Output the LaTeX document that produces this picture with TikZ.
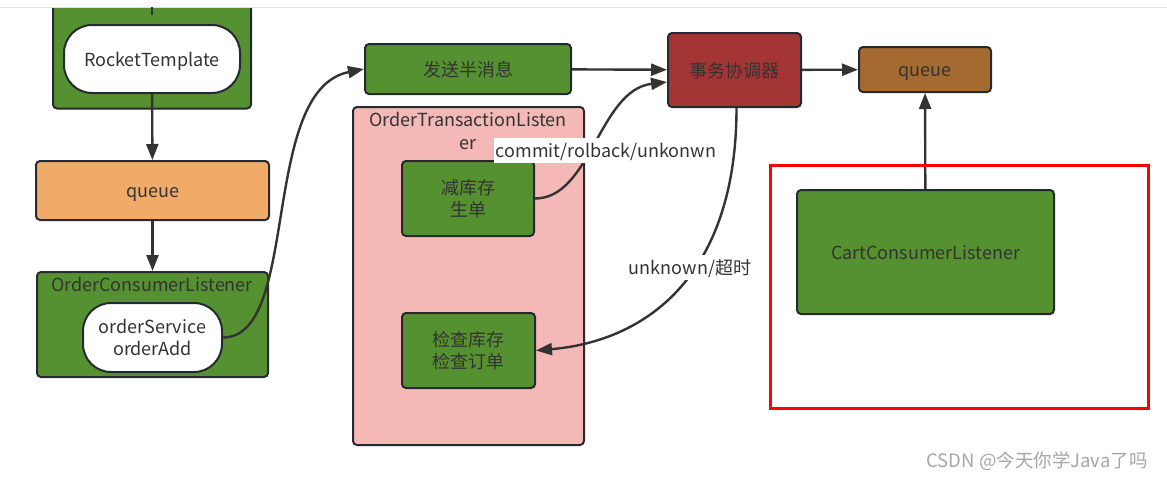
\documentclass[tikz,border=0pt]{standalone}
\usepackage{fontspec}
\setmainfont{Noto Sans CJK SC}
\usepackage{xcolor}
\usetikzlibrary{arrows.meta, positioning}
\definecolor{boxgreen}{HTML}{559130}
\definecolor{queueorange}{HTML}{F1AB69}
\definecolor{queuebrown}{HTML}{A56A2F}
\definecolor{coordred}{HTML}{A33535}
\definecolor{listenpink}{HTML}{F4B8B7}
\definecolor{edgegray}{HTML}{262A30}
\definecolor{txtgray}{HTML}{333333}
\definecolor{arrowgray}{HTML}{333333}

\begin{document}
\begin{tikzpicture}[x=1pt, y=-1pt, thick, >={Triangle[length=16pt,width=12pt]},
  box/.style={shape=rectangle, draw=edgegray, line width=2pt, rounded corners=4pt, text=txtgray, font=\fontsize{18}{22.5}\selectfont, align=center, inner sep=2pt},
  oneline/.style={text height=18pt, text depth=4pt},
  pill/.style={box, fill=white, rounded corners=28pt},
  flow/.style={draw=arrowgray, line width=2.4pt},
  lbl/.style={oneline, fill=white, text=txtgray, inner sep=1.5pt, font=\fontsize{18}{22}\selectfont},
  title/.style={text=txtgray, font=\fontsize{18}{23}\selectfont, align=center, inner sep=0pt}]
\fill[white] (0,0) rectangle (1167,480);
\useasboundingbox (0,0) rectangle (1167,480);
% containers
\node[box, fill=boxgreen, minimum width=198pt, minimum height=125pt] (tplbox) at (152,46) {};
\node[box, fill=boxgreen, minimum width=231pt, minimum height=105pt] (ocl) at (152.5,324.5) {};
\node[title] (ocltitle) at (152,284.5) {OrderConsumerListener};
\node[box, fill=listenpink, minimum width=231pt, minimum height=338pt] (otl) at (468.5,276) {};
\node[title] (otltitle) at (468,130.5) {OrderTransactionListen\\er};
% header strip of the page
\fill[white] (0,0) rectangle (1167,7);
\draw[gray!25, line width=1pt] (0,7) -- (1167,7);
\coordinate (stubtop) at (152,7);
\coordinate (stubend) at (152,15);
\draw[flow, line width=2pt] (stubtop) -- (stubend);
% nodes
\node[pill, oneline, minimum width=176pt, minimum height=68pt] (rt) at (152,59) {RocketTemplate};
\node[box, oneline, fill=queueorange, minimum width=233pt, minimum height=59pt] (q1) at (152.5,190.5) {queue};
\node[pill, minimum width=139pt, minimum height=69pt] (oadd) at (152.5,337.5) {orderService\\orderAdd};
\node[box, oneline, fill=boxgreen, minimum width=206pt, minimum height=50pt] (half) at (468,69) {发送半消息};
\node[box, oneline, fill=coordred, minimum width=133pt, minimum height=74pt] (tc) at (734.5,70) {事务协调器};
\node[box, oneline, fill=queuebrown, minimum width=132pt, minimum height=45pt] (q2) at (925,69.5) {queue};
\node[box, fill=boxgreen, minimum width=132pt, minimum height=75pt] (jian) at (468,198.5) {减库存\\生单};
\node[box, fill=boxgreen, minimum width=133pt, minimum height=75pt] (check) at (468.5,350.5) {检查库存\\检查订单};
\node[box, oneline, fill=boxgreen, minimum width=257pt, minimum height=124pt] (cart) at (925.5,252) {CartConsumerListener};
% connectors
\draw[flow, ->] (rt) -- (q1);
\draw[flow, ->] (q1) -- (ocl);
\draw[flow, ->] (half) -- (tc);
\draw[flow, ->] (tc) -- (q2);
\draw[flow, ->] (cart) -- (q2);
\draw[flow, ->] (oadd.east) .. controls +(78,0) and +(-105,21) .. (half.west);
\draw[flow, ->] (jian.east) .. controls +(56,0) and +(-68,8) .. ([yshift=-12pt]tc.west);
\draw[flow, ->] ([xshift=2pt]tc.south) .. controls +(0,163) and +(115,-10) .. (check.east);
\node[lbl] (commitlbl) at (606,150.5) {commit/rolback/unkonwn};
\node[lbl] (timeoutlbl) at (690,267) {unknown/超时};
% marked frame
\draw[red, line width=3pt] (770,165) rectangle (1148,408);
\node[text=gray!70, font=\fontsize{18.5}{22}\selectfont] (mark) at (1037,461) {CSDN @今天你学Java了吗};
\end{tikzpicture}
\end{document}
